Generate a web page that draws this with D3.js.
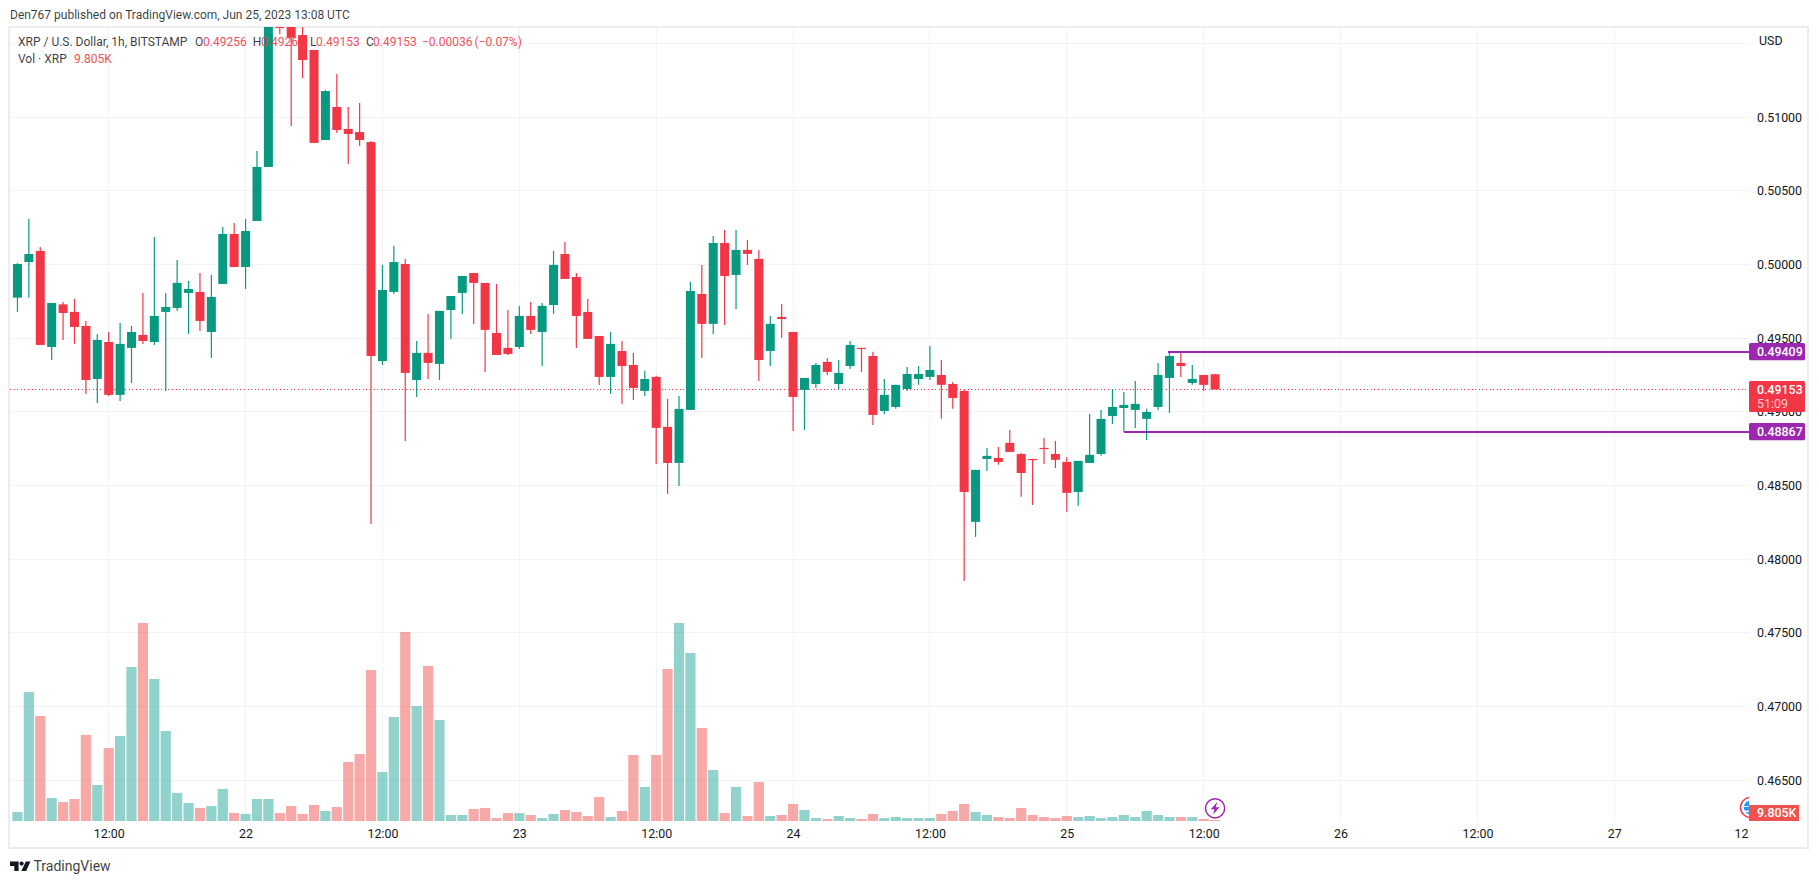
<!DOCTYPE html>
<html>
<head>
<meta charset="utf-8">
<script src="https://cdnjs.cloudflare.com/ajax/libs/d3/7.8.5/d3.min.js"></script>
<style>
html,body{margin:0;padding:0;background:#fff;overflow:hidden}
svg{display:block}
text{font-family:Roboto,"Noto Sans",sans-serif}
</style>
</head>
<body>
<svg id="c" width="1819" height="884"></svg>
<script>
// Hourly candles, first bar Jun 21 04:00 UTC
const opens = [.49776,.50018,.50093,.49441,.49730,.49679,.49584,.49224,.49475,.49116,.49435,.49523,.49475,.49679,.49706,.49808,.49815,.49543,.49869,.50208,.49984,.50296,.50663,.51790,.51700,.51558,.51457,.50846,.51070,.50921,.50900,.50832,.49346,.49815,.50004,.49217,.49401,.49326,.49692,.49808,.49943,.49876,.49536,.49435,.49441,.49652,.49543,.49726,.50072,.49916,.49679,.49516,.49238,.49414,.49319,.49143,.49238,.48899,.48654,.49014,.49801,.49598,.50147,.49930,.50100,.50039,.49414,.49645,.49543,.49150,.49190,.49340,.49190,.49312,.49435,.49380,.49007,.49034,.49156,.49224,.49238,.49251,.49190,.49143,.48254,.48681,.48688,.48790,.48715,.48681,.48756,.48715,.48661,.48457,.48654,.48715,.48973,.49027,.49014,.48953,.49034,.49231,.49333,.49197,.49251,.49256];
const highs = [.50010,.50310,.50120,.49740,.49747,.49767,.49618,.49530,.49543,.49604,.49584,.49808,.50188,.49805,.50032,.49889,.49943,.49930,.50256,.50283,.50310,.50771,.51800,.51800,.51800,.51700,.51457,.51185,.51294,.51070,.51097,.50839,.49998,.50127,.50038,.49482,.49665,.49686,.49787,.49923,.49943,.49876,.49869,.49692,.49720,.49747,.49740,.50093,.50154,.49943,.49767,.49516,.49543,.49482,.49401,.49279,.49245,.49089,.49109,.49883,.49998,.50195,.50235,.50235,.50168,.50100,.49652,.49733,.49543,.49231,.49333,.49367,.49353,.49482,.49435,.49408,.49224,.49184,.49306,.49312,.49448,.49353,.49204,.49150,.48607,.48756,.48763,.48878,.48722,.48681,.48824,.48804,.48695,.48668,.48987,.49014,.49156,.49136,.49211,.49021,.49333,.49414,.49414,.49319,.49251,.49260];
const lows = [.49679,.49776,.49455,.49353,.49489,.49462,.49122,.49061,.49109,.49075,.49197,.49462,.49455,.49143,.49686,.49530,.49550,.49367,.49869,.49984,.49835,.50296,.50663,.51565,.50941,.51267,.50826,.50846,.50893,.50683,.50805,.48240,.49319,.49801,.48803,.49102,.49224,.49217,.49496,.49665,.49597,.49272,.49387,.49387,.49428,.49530,.49312,.49665,.49903,.49435,.49496,.49183,.49122,.49055,.49082,.49109,.48647,.48444,.48498,.49014,.49367,.49530,.49591,.49699,.49998,.49211,.49312,.49503,.48871,.48878,.49163,.49251,.49150,.49292,.49272,.48912,.48987,.49021,.49143,.49184,.49217,.48954,.49021,.47853,.48152,.48600,.48641,.48729,.48424,.48369,.48647,.48620,.48322,.48363,.48654,.48702,.48919,.48867,.48892,.48810,.49014,.48994,.49238,.49184,.49143,.49153];
const closes = [.50004,.50072,.49455,.49740,.49672,.49577,.49217,.49489,.49116,.49462,.49543,.49482,.49652,.49713,.49876,.49835,.49618,.49781,.50208,.49984,.50228,.50663,.51780,.51606,.51540,.51389,.50826,.51178,.50914,.50887,.50846,.49380,.49828,.50018,.49265,.49401,.49333,.49686,.49787,.49923,.49876,.49557,.49387,.49394,.49652,.49557,.49720,.49998,.49903,.49652,.49496,.49238,.49462,.49312,.49163,.49224,.48892,.48654,.49021,.49821,.49598,.50147,.49923,.50100,.50073,.49353,.49598,.49631,.49102,.49231,.49319,.49272,.49265,.49455,.49428,.48980,.49116,.49184,.49258,.49258,.49285,.49184,.49095,.48457,.48607,.48702,.48661,.48729,.48586,.48675,.48749,.48675,.48451,.48668,.48709,.48953,.49034,.49048,.49055,.49000,.49251,.49380,.49312,.49224,.49184,.49153];
// Volume in thousands of XRP
const volumes = [88,1265,1030,226,186,216,844,353,716,834,1511,1942,1393,883,275,177,128,147,314,78,69,216,216,78,147,69,157,98,137,579,657,1481,481,1020,1854,1128,1521,991,59,59,118,128,29,78,78,59,29,69,108,88,49,235,39,98,647,334,647,1491,1942,1648,912,500,78,334,49,383,49,59,167,108,29,20,49,29,20,69,29,39,29,29,29,69,98,167,88,59,39,29,128,59,39,29,49,39,49,29,39,59,39,98,59,39,39,39,20,9.805];
const priceTicks = [0.465,0.47,0.475,0.48,0.485,0.49,0.495,0.5,0.505,0.51];
const priceGrid = [0.465,0.47,0.475,0.48,0.485,0.49,0.495,0.5,0.505,0.51,0.515];
const timeTickBars = [8,20,32,44,56,68,80,92,104,116,128,140,151.1];
const timeTickLabels = ["12:00","22","12:00","23","12:00","24","12:00","25","12:00","26","12:00","27","12"];
const levelPrices = [0.49409,0.48867];
const levelStartBars = [100.9,97];
const lastPrice = 0.49153;
const legendParts = [["XRP / U.S. Dollar, 1h, BITSTAMP",18,0],["O",195,0],["0.49256",203,1],["H",252.7,0],["0.49260",261,1],["L",310,0],["0.49153",316,1],["C",366,0],["0.49153",373,1],["\u22120.00036",422,1],["(\u22120.07%)",474.5,1]];

const GREEN="#089981",RED="#f23645",PURPLE="#9c27b0",GRID="#f2f3f5",INK="#131722",FRAME="#ececf2";
const L=10,R=1749,T=27,B=821,FR=1808,FB=848;
const n=opens.length;
const x=d3.scaleLinear().domain([8,140]).range([108.7,1614.3]);
const y=d3.scaleLinear().domain([0.495,0.465]).range([338.3,780.3]);
const vY=d3.scaleLinear().domain([0,1942]).range([B,B-198]);
const svg=d3.select("#c");
svg.append("defs").append("clipPath").attr("id","plot").append("rect").attr("x",L).attr("y",T).attr("width",R-L).attr("height",B-T);
svg.append("defs").append("clipPath").attr("id","plotIcon").append("rect").attr("x",L).attr("y",T).attr("width",R-L).attr("height",B-T);

// frame
svg.append("rect").attr("x",9).attr("y",27).attr("width",FR-9).attr("height",FB-27).attr("fill","#fff").attr("stroke",FRAME).attr("stroke-width",2);

// grid
const g=svg.append("g").attr("clip-path","url(#plot)");
g.selectAll(".h").data(priceGrid).join("line").attr("x1",L).attr("x2",R).attr("y1",d=>y(d)).attr("y2",d=>y(d)).attr("stroke",GRID).attr("stroke-width",1).attr("shape-rendering","crispEdges");
g.selectAll(".v").data(timeTickBars.slice(0,12)).join("line").attr("x1",d=>x(d)).attr("x2",d=>x(d)).attr("y1",T).attr("y2",B).attr("stroke",GRID).attr("stroke-width",1).attr("shape-rendering","crispEdges");

// volume
const isUp=i=>closes[i]>=opens[i];
g.selectAll(".vol").data(volumes).join("rect")
 .attr("x",(d,i)=>x(i)-5.1).attr("width",10.2)
 .attr("y",d=>vY(d)).attr("height",d=>B-vY(d))
 .attr("fill",(d,i)=>isUp(i)?"#26a69a":"#ef5350").attr("opacity",0.5);

// last price dotted line
g.append("line").attr("x1",L).attr("x2",R).attr("y1",y(lastPrice)).attr("y2",y(lastPrice)).attr("stroke",RED).attr("stroke-width",1).attr("stroke-dasharray","1 2.6").attr("shape-rendering","crispEdges");

// candles
const idx=d3.range(n);
g.selectAll(".wick").data(idx).join("line")
 .attr("x1",i=>x(i)).attr("x2",i=>x(i)).attr("y1",i=>y(highs[i])).attr("y2",i=>y(lows[i]))
 .attr("stroke",i=>isUp(i)?GREEN:RED).attr("stroke-width",1.2);
g.selectAll(".body").data(idx).join("rect")
 .attr("x",i=>x(i)-4.5).attr("width",9)
 .attr("y",i=>y(Math.max(opens[i],closes[i])))
 .attr("height",i=>Math.max(1.2,Math.abs(y(opens[i])-y(closes[i]))))
 .attr("fill",i=>isUp(i)?GREEN:RED);

// level lines
g.selectAll(".lvl").data(levelPrices).join("line")
 .attr("x1",(d,i)=>x(levelStartBars[i])).attr("x2",R).attr("y1",d=>y(d)).attr("y2",d=>y(d))
 .attr("stroke",PURPLE).attr("stroke-width",2).attr("shape-rendering","crispEdges");

// lightning marker
const m=svg.append("g").attr("transform",`translate(${x(105)},808.3)`);
m.append("circle").attr("r",9.6).attr("fill","#fff").attr("stroke",PURPLE).attr("stroke-width",1.5);
m.append("path").attr("d","M2.2,-6.2 L-4.4,1 L-0.6,1 L-2,6.2 L4.4,-1 L0.6,-1 Z").attr("fill",PURPLE);

// flag icon, clipped by the price scale
const f=svg.append("g").attr("clip-path","url(#plotIcon)").append("g").attr("transform","translate(1750.5,807.5)");
f.append("circle").attr("r",10).attr("fill","#fff").attr("stroke",RED).attr("stroke-width",1.5);
f.append("circle").attr("r",6.8).attr("fill","#2196f3");
f.append("line").attr("x1",-7).attr("x2",0).attr("y1",-1).attr("y2",-1).attr("stroke","#fff").attr("stroke-width",.8);
f.append("rect").attr("x",-7).attr("y",3).attr("width",7).attr("height",1.6).attr("fill","#fff");

// price axis
const pa=svg.append("g").attr("transform",`translate(${R},0)`).call(d3.axisRight(y).tickValues(priceTicks).tickSize(0).tickPadding(8).tickFormat(d3.format(".5f")));
pa.select(".domain").remove();
pa.selectAll("text").attr("fill",INK).attr("font-size",12.4).style("font-family","Roboto,sans-serif");
// time axis
const ta=svg.append("g").attr("transform",`translate(0,${B})`).call(d3.axisBottom(x).tickValues(timeTickBars).tickSize(0).tickPadding(8).tickFormat((d,i)=>timeTickLabels[i]));
ta.select(".domain").remove();
ta.selectAll("text").attr("fill",INK).attr("font-size",12.4).style("font-family","Roboto,sans-serif");

svg.append("text").attr("x",1759).attr("y",45).attr("fill",INK).attr("font-size",12.4).text("USD");

// labels on the scale
function tag(p,col,txt){
  const yy=y(p);
  svg.append("rect").attr("x",R).attr("y",yy-8.6).attr("width",56).attr("height",17.2).attr("rx",1.5).attr("fill",col);
  svg.append("text").attr("x",1757).attr("y",yy+4.4).attr("fill","#fff").attr("font-size",12.4).attr("font-weight",500).text(txt);
}
levelPrices.forEach(p=>tag(p,PURPLE,d3.format(".5f")(p)));
svg.append("rect").attr("x",R).attr("y",y(lastPrice)-8.4).attr("width",56).attr("height",31).attr("rx",1.5).attr("fill",RED);
svg.append("text").attr("x",1757).attr("y",y(lastPrice)+4.4).attr("fill","#fff").attr("font-size",12.4).attr("font-weight",500).text(d3.format(".5f")(lastPrice));
svg.append("text").attr("x",1757).attr("y",y(lastPrice)+18.4).attr("fill","#ffc9cd").attr("font-size",12.4).text("51:09");
svg.append("rect").attr("x",R).attr("y",805).attr("width",50).attr("height",16).attr("fill","#ef5350");
svg.append("text").attr("x",1757).attr("y",817.4).attr("fill","#fff").attr("font-size",12.4).attr("font-weight",500).text("9.805K");

// header & legend
svg.append("text").attr("x",10).attr("y",19).attr("fill",INK).attr("font-size",12).attr("fill-opacity",.85).text("Den767 published on TradingView.com, Jun 25, 2023 13:08 UTC");
legendParts.forEach(p=>svg.append("text").attr("x",p[1]).attr("y",46).attr("font-size",12).attr("fill",p[2]?RED:INK).attr("fill-opacity",p[2]?.9:.85).text(p[0]));
svg.append("text").attr("x",18).attr("y",63).attr("font-size",12).attr("fill",INK).attr("fill-opacity",.85).text("Vol \u00b7 XRP");
svg.append("text").attr("x",74).attr("y",63).attr("font-size",12).attr("fill","#ef5350").text("9.805K");

// footer logo
const lg=svg.append("g").attr("transform","translate(10,861.5)").attr("fill","#131722");
lg.append("path").attr("d","M0,0 H8.6 V9.4 H4.3 V4.4 H0 Z");
lg.append("circle").attr("cx",11.6).attr("cy",2.1).attr("r",2.1);
lg.append("path").attr("d","M15.8,0 H20.4 L16.2,9.4 H11.4 Z");
svg.append("text").attr("x",33.5).attr("y",871).attr("font-size",14).attr("fill",INK).attr("fill-opacity",.85).text("TradingView");
</script>
</body>
</html>
